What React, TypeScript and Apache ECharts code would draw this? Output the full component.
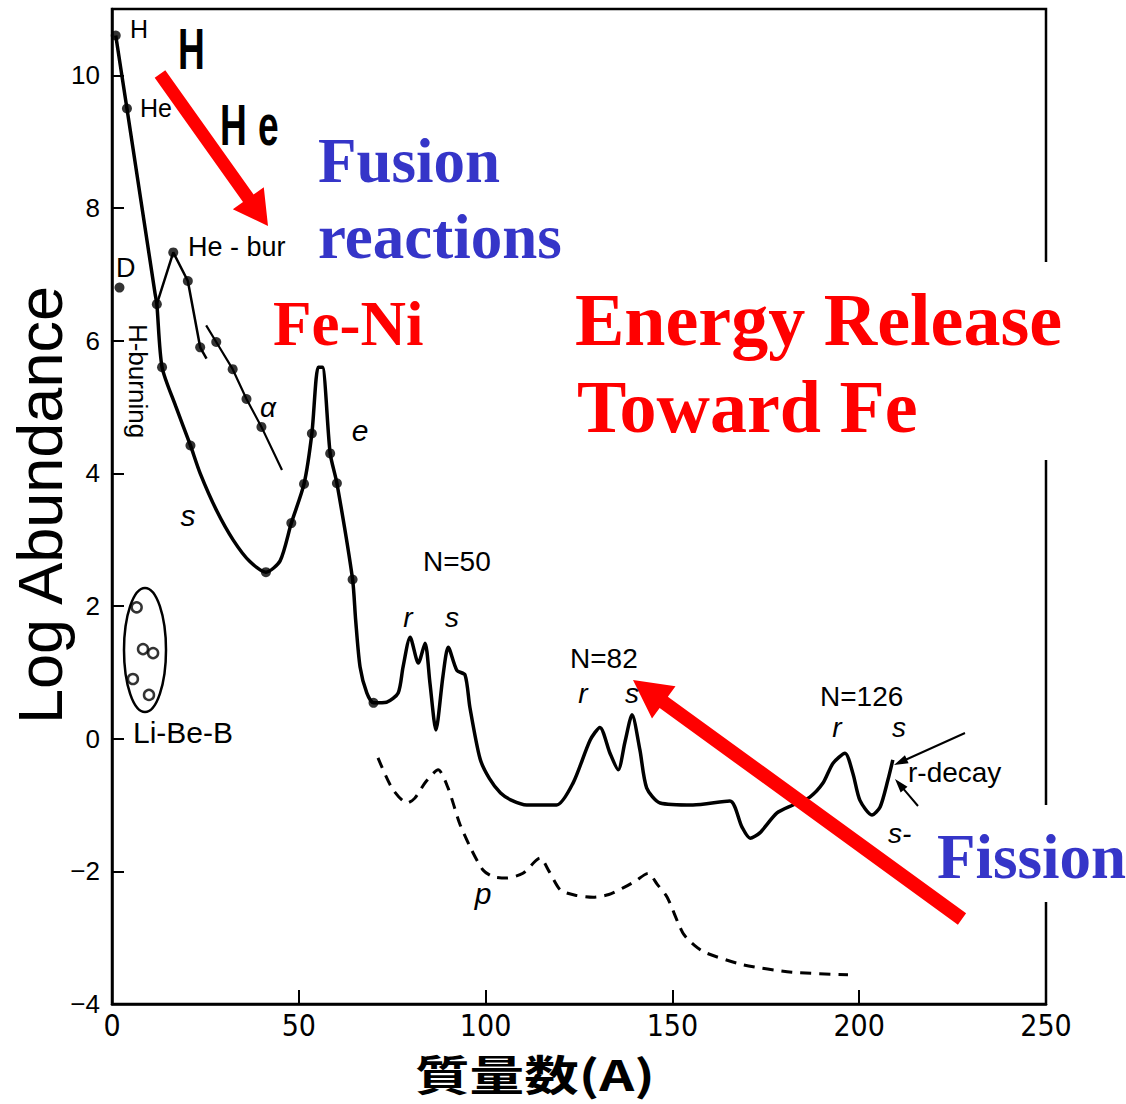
import React, { useEffect, useRef } from "react";
import * as echarts from "echarts";

// Mass number (A) and log abundance for the main solid curve
const mainA = [1, 4, 11.5, 12, 13.4, 17, 21, 23.6, 28, 32.5, 36.9, 41.2, 45, 48, 51.4, 53.5, 55.2, 56.3, 58.4, 60.2, 64.4, 65.2, 66.4, 68.2, 70, 73.5, 76.6, 77.9, 79.8, 82, 83.8, 85.1, 86.7, 88.6, 90, 92.3, 94.5, 95.8, 98.5, 101, 104, 107, 111, 119, 123.4, 128, 130.6, 133.3, 135.5, 137.3, 139.2, 141.3, 143.1, 146.7, 155.5, 165.4, 168.6, 170.8, 173.4, 178, 182.3, 186.8, 190.3, 193, 196.2, 198.3, 200.2, 203.4, 205.6, 207.7, 209];
const mainLog = [10.6, 9.5, 6.72, 6.55, 5.6, 5.02, 4.42, 4.0, 3.44, 2.99, 2.67, 2.51, 2.68, 3.25, 3.84, 4.6, 5.6, 5.6, 4.3, 3.85, 2.4, 1.8, 1.08, 0.69, 0.54, 0.55, 0.69, 1.08, 1.53, 1.14, 1.44, 0.84, 0.13, 0.95, 1.38, 1.03, 0.96, 0.47, -0.3, -0.6, -0.82, -0.93, -1.0, -1.0, -0.67, -0.02, 0.17, -0.22, -0.47, -0.05, 0.36, -0.17, -0.74, -0.97, -1.0, -0.94, -1.33, -1.5, -1.42, -1.12, -1.0, -0.88, -0.67, -0.37, -0.22, -0.52, -0.93, -1.15, -1.03, -0.62, -0.32];

// He-burning branch
const heBurA = [12, 16.4, 20.3, 23.6, 25.3];
const heBurLog = [6.55, 7.33, 6.9, 5.9, 5.73];

// alpha branch
const alphaA = [25.2, 27.9, 32.3, 36, 40, 45.5];
const alphaLog = [6.23, 5.98, 5.57, 5.12, 4.7, 4.05];

// measured points (filled dots)
const dotA = [1, 4, 12, 13.4, 21, 41.2, 48, 51.4, 53.5, 58.4, 60.2, 64.4, 70, 16.4, 20.3, 23.6, 27.9, 32.3, 36, 40, 2];
const dotLog = [10.6, 9.5, 6.55, 5.6, 4.42, 2.51, 3.25, 3.84, 4.6, 4.3, 3.85, 2.4, 0.54, 7.33, 6.9, 5.9, 5.98, 5.57, 5.12, 4.7, 6.8];

// Li-Be-B (open circles)
const liA = [6.6, 8.3, 11, 5.6, 9.9];
const liLog = [1.98, 1.35, 1.29, 0.9, 0.66];

// p-process (dashed)
const pA = [71.2, 75, 79, 81, 84, 87.3, 90, 93, 96, 99.3, 102, 105.7, 110, 114.6, 117, 120, 124, 128.8, 133, 136.8, 140, 143.5, 146, 148.6, 152.8, 156, 159, 169, 182, 197];
const pLog = [-0.29, -0.75, -0.97, -0.9, -0.65, -0.47, -0.75, -1.27, -1.65, -1.98, -2.08, -2.1, -2.03, -1.8, -2.0, -2.28, -2.36, -2.39, -2.35, -2.25, -2.15, -2.03, -2.2, -2.39, -2.93, -3.12, -3.23, -3.41, -3.52, -3.56];

const xTicks = [0, 50, 100, 150, 200, 250];
const yTicks = [-4, -2, 0, 2, 4, 6, 8, 10];

const zip = (a: number[], b: number[]) => a.map((v, i) => [v, b[i]]);

const SERIF = "'Liberation Serif', 'Times New Roman', serif";
const SANS = "'Liberation Sans', Arial, sans-serif";
const NARROW = "'Liberation Sans Narrow', 'DejaVu Sans Condensed', 'Liberation Sans', Arial, sans-serif";
const BLUE = "#3535C8";
const RED = "#FF0000";

function arrowPoly(x1: number, y1: number, x2: number, y2: number, w: number, hl: number, hw: number) {
  const dx = x2 - x1, dy = y2 - y1;
  const len = Math.hypot(dx, dy);
  const ux = dx / len, uy = dy / len;
  const nx = -uy, ny = ux;
  const bx = x2 - ux * hl, by = y2 - uy * hl;
  return [
    [x1 + nx * w / 2, y1 + ny * w / 2],
    [bx + nx * w / 2, by + ny * w / 2],
    [bx + nx * hw / 2, by + ny * hw / 2],
    [x2, y2],
    [bx - nx * hw / 2, by - ny * hw / 2],
    [bx - nx * w / 2, by - ny * w / 2],
    [x1 - nx * w / 2, y1 - ny * w / 2],
  ];
}

function txt(text: string, x: number, y: number, size: number, opts: any = {}) {
  return {
    type: "text",
    x,
    y,
    z: 100,
    rotation: opts.rotation || 0,
    scaleX: opts.scaleX || 1,
    style: {
      text,
      fill: opts.fill || "#000",
      fontSize: size,
      fontFamily: opts.family || SANS,
      fontWeight: opts.weight || "normal",
      fontStyle: opts.italic ? "italic" : "normal",
      textAlign: opts.align || "left",
      textVerticalAlign: "middle",
    },
  };
}

export default function App() {
  const ref = useRef<HTMLDivElement>(null);
  useEffect(() => {
    const chart = echarts.init(ref.current!, null, { renderer: "svg" });
    const black = "#000";
    const option: any = {
      animation: false,
      backgroundColor: "#fff",
      grid: { left: 112, right: 80, top: 9, bottom: 100, show: true, borderColor: black, borderWidth: 2.5, backgroundColor: "transparent" },
      xAxis: {
        type: "value", min: xTicks[0], max: xTicks[xTicks.length - 1], interval: 50,
        axisLine: { onZero: false, lineStyle: { color: black, width: 2.5 } },
        axisTick: { inside: true, length: 14, lineStyle: { color: black, width: 2 } },
        axisLabel: { color: black, fontSize: 30, fontFamily: NARROW, margin: 6 },
        splitLine: { show: false },
      },
      yAxis: {
        type: "value", min: yTicks[0], max: 11, interval: 2,
        axisLine: { show: true, onZero: false, lineStyle: { color: black, width: 2.5 } },
        axisTick: { show: true, inside: true, length: 12, lineStyle: { color: black, width: 2 } },
        axisLabel: { color: black, fontSize: 26, fontFamily: SANS, margin: 12, showMaxLabel: false, formatter: (v: number) => String(v).replace("-", "−") },
        splitLine: { show: false },
      },
      series: [
        { type: "line", data: zip(mainA, mainLog), showSymbol: false, smooth: 0.25, lineStyle: { color: black, width: 3.5 }, z: 3 },
        { type: "line", data: zip(heBurA, heBurLog), showSymbol: false, lineStyle: { color: black, width: 2.5 }, z: 3 },
        { type: "line", data: zip(alphaA, alphaLog), showSymbol: false, lineStyle: { color: black, width: 2.2 }, z: 3 },
        { type: "line", data: zip(pA, pLog), showSymbol: false, smooth: 0.25, lineStyle: { color: black, width: 3, type: [11, 8] }, z: 3 },
        { type: "scatter", data: zip(dotA, dotLog), symbol: "circle", symbolSize: 10, itemStyle: { color: black }, z: 4 },
        { type: "scatter", data: zip(liA, liLog), symbol: "circle", symbolSize: 10, itemStyle: { color: "#fff", borderColor: black, borderWidth: 2.5 }, z: 4 },
      ],
      graphic: [
        // white patches where pasted text boxes cover the right frame
        { type: "rect", z: 90, shape: { x: 1036, y: 262, width: 20, height: 198 }, style: { fill: "#fff" } },
        { type: "rect", z: 90, shape: { x: 1036, y: 805, width: 20, height: 97 }, style: { fill: "#fff" } },
        // Li-Be-B ellipse
        { type: "ellipse", z: 95, shape: { cx: 145, cy: 650, rx: 21, ry: 62 }, style: { fill: "none", stroke: black, lineWidth: 2.5 } },
        // red arrows
        { type: "polygon", z: 98, shape: { points: arrowPoly(160, 74, 268, 226, 13, 34, 38) }, style: { fill: RED } },
        { type: "polygon", z: 98, shape: { points: arrowPoly(962, 919, 633, 680, 14, 38, 40) }, style: { fill: RED } },
        // small black arrows for r-decay
        { type: "polygon", z: 98, shape: { points: arrowPoly(965, 733, 894, 765, 2, 14, 9) }, style: { fill: black } },
        { type: "polygon", z: 98, shape: { points: arrowPoly(918, 806, 895, 779, 2, 14, 9) }, style: { fill: black } },
        // big texts
        txt("Fusion", 318, 182 - 21, 63, { family: SERIF, weight: "bold", fill: BLUE }),
        txt("reactions", 318, 258 - 21, 63, { family: SERIF, weight: "bold", fill: BLUE }),
        txt("Fe-Ni", 273, 345 - 21, 63, { family: SERIF, weight: "bold", fill: RED }),
        txt("Energy Release", 575, 345 - 25, 74, { family: SERIF, weight: "bold", fill: RED }),
        txt("Toward Fe", 577, 432 - 25, 74, { family: SERIF, weight: "bold", fill: RED }),
        txt("Fission", 937, 878 - 21, 63, { family: SERIF, weight: "bold", fill: BLUE }),
        txt("H", 178, 49, 58, { family: SANS, weight: "bold", scaleX: 0.64 }),
        txt("H", 220, 125, 58, { family: SANS, weight: "bold", scaleX: 0.64 }),
        txt("e", 258, 125, 58, { family: SANS, weight: "bold", scaleX: 0.64 }),
        // axis titles
        txt("Log Abundance", 40, 505, 63, { rotation: Math.PI / 2, align: "center" }),
        txt("質量数(A)", 535, 1073, 42, { family: "'Noto Sans CJK JP', sans-serif", weight: "bold", align: "center", scaleX: 1.3 }),
        // small labels
        txt("H", 130, 29, 25),
        txt("He", 140, 108, 25),
        txt("He - bur", 188, 247, 27),
        txt("D", 116, 268, 27),
        txt("H-burning", 138, 381, 26, { rotation: -Math.PI / 2, align: "center" }),
        txt("s", 188, 515, 30, { italic: true, align: "center" }),
        txt("α", 268, 407, 28, { italic: true, align: "center" }),
        txt("e", 360, 430, 30, { italic: true, align: "center" }),
        txt("N=50", 423, 561, 28),
        txt("r", 408, 617, 28, { italic: true, align: "center" }),
        txt("s", 452, 617, 28, { italic: true, align: "center" }),
        txt("N=82", 570, 658, 28),
        txt("r", 583, 693, 28, { italic: true, align: "center" }),
        txt("s", 632, 693, 28, { italic: true, align: "center" }),
        txt("N=126", 820, 696, 28),
        txt("r", 837, 727, 28, { italic: true, align: "center" }),
        txt("s", 899, 727, 28, { italic: true, align: "center" }),
        txt("r-decay", 908, 772, 28),
        txt("s-", 888, 833, 28, { italic: true }),
        txt("p", 483, 893, 30, { italic: true, align: "center" }),
        txt("Li-Be-B", 133, 732, 30),
      ],
    };
    chart.setOption(option);
    return () => chart.dispose();
  }, []);
  return <div ref={ref} style={{ position: "fixed", left: 0, top: 0, width: 1126, height: 1104 }} />;
}
